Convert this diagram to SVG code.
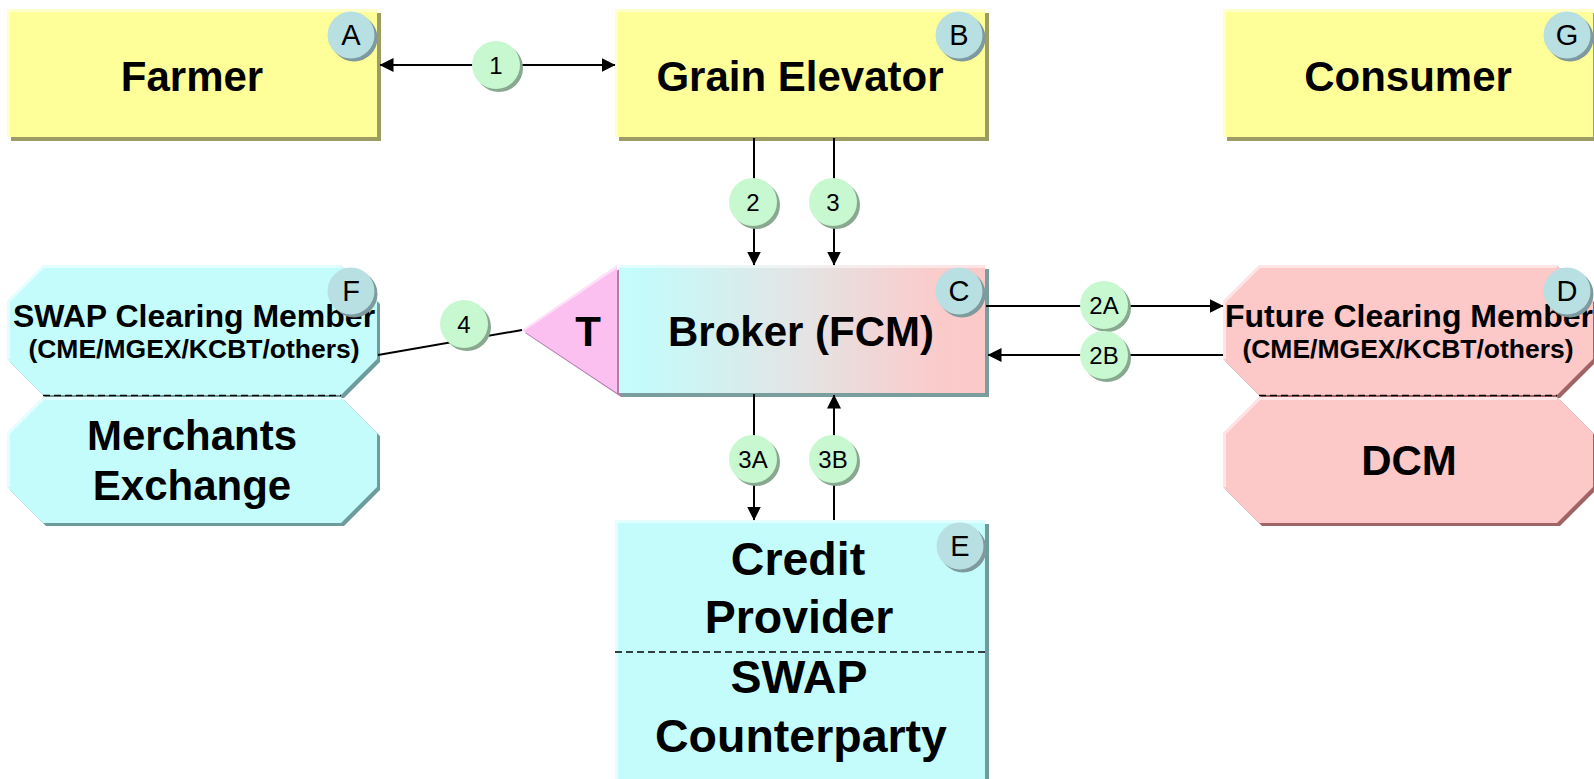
<svg xmlns="http://www.w3.org/2000/svg" width="1594" height="779" viewBox="0 0 1594 779">
<defs>
  <linearGradient id="brokerGrad" x1="0" y1="0" x2="1" y2="0">
    <stop offset="0" stop-color="#c4fcfc"/>
    <stop offset="0.08" stop-color="#c6fafa"/>
    <stop offset="0.5" stop-color="#e4e4e4"/>
    <stop offset="0.85" stop-color="#facccc"/>
    <stop offset="1" stop-color="#fcc8c8"/>
  </linearGradient>
  <marker id="arr" markerUnits="userSpaceOnUse" markerWidth="14" markerHeight="14" viewBox="0 0 14 14" refX="13.5" refY="7" orient="auto-start-reverse">
    <path d="M0,0 L14,7 L0,14 z" fill="#000"/>
  </marker>
</defs>
<style>
  .t { font-family: "Liberation Sans", Arial, sans-serif; fill: #000; text-anchor: middle; }
  .big { font-size: 42px; font-weight: bold; }
  .huge { font-size: 46.5px; font-weight: bold; }
  .mid { font-size: 32px; font-weight: bold; }
  .small { font-size: 26.5px; font-weight: bold; }
  .badge-t { font-size: 29px; }
  .lbl-t { font-size: 24px; }
  .fy { fill: #ffff99; }
  .sy { fill: #9c9c64; }
  .fc { fill: #c4fcfc; }
  .sc { fill: #6e9c9c; }
  .fp { fill: #fcc8c8; }
  .sp { fill: #a06464; }
  .hl { fill: none; stroke: #ffffff; stroke-opacity: 0.5; stroke-width: 3; }
  .badge { fill: #b8dfe2; }
  .badge-sh { fill: #7e9a9c; }
  .lbl { fill: #c8f8d0; }
  .lbl-sh { fill: #88a890; }
  .dash { stroke: #000; stroke-width: 1.5; stroke-dasharray: 7 4; fill: none; }
  .conn { stroke: #000; stroke-width: 2; fill: none; }
</style>
<rect x="0" y="0" width="1594" height="779" fill="#ffffff"/>

<g id="node-A-farmer">
  <rect class="sy" x="11" y="13" width="370" height="128"/>
  <rect class="fy" x="7" y="9" width="370" height="128"/>
  <path class="hl" d="M8.5,137 V10.5 H377"/>
  <text class="t big" x="192" y="91">Farmer</text>
  <circle class="badge-sh" cx="354" cy="38" r="23.5"/>
  <circle class="badge" cx="351" cy="35" r="23.5"/>
  <text class="t badge-t" x="351" y="45">A</text>
</g>

<g id="node-B-grain-elevator">
  <rect class="sy" x="619" y="13" width="370" height="128"/>
  <rect class="fy" x="615" y="9" width="370" height="128"/>
  <path class="hl" d="M616.5,137 V10.5 H985"/>
  <text class="t big" x="800" y="91">Grain Elevator</text>
  <circle class="badge-sh" cx="962" cy="38" r="23.5"/>
  <circle class="badge" cx="959" cy="35" r="23.5"/>
  <text class="t badge-t" x="959" y="45">B</text>
</g>

<g id="node-G-consumer">
  <rect class="sy" x="1227" y="13" width="370" height="128"/>
  <rect class="fy" x="1223" y="9" width="370" height="128"/>
  <path class="hl" d="M1224.5,137 V10.5 H1593"/>
  <text class="t big" x="1408" y="91">Consumer</text>
  <circle class="badge-sh" cx="1570" cy="38" r="23.5"/>
  <circle class="badge" cx="1567" cy="35" r="23.5"/>
  <text class="t badge-t" x="1567" y="45">G</text>
</g>

<g id="node-C-broker">
  <polygon fill="#b080a8" points="525,333 621,268 621,397"/>
  <polygon fill="#fcc0f0" points="522,330 617,265 617,393"/>
  <path class="hl" d="M523,330 L617,266.5"/>
  <rect fill="#7a9e9e" x="621" y="269" width="368" height="128"/>
  <rect fill="url(#brokerGrad)" x="619" y="265" width="366" height="128"/>
  <path class="hl" d="M619,266.5 H985"/>
  <text class="t big" x="588" y="346">T</text>
  <text class="t big" x="801" y="346">Broker (FCM)</text>
  <circle class="badge-sh" cx="962" cy="294" r="23.5"/>
  <circle class="badge" cx="959" cy="291" r="23.5"/>
  <text class="t badge-t" x="959" y="301">C</text>
</g>

<g id="node-F-swap-clearing">
  <polygon class="sc" points="46,268 344,268 380,304 380,362 344,398 46,398 10,362 10,304"/>
  <polygon class="fc" points="43,265 341,265 377,301 377,359 341,395 43,395 7,359 7,301"/>
  <path class="hl" d="M8.5,359 V301.5 L43.5,266.5 H341"/>
  <polygon class="sc" points="46,400 344,400 380,436 380,490 344,526 46,526 10,490 10,436"/>
  <polygon class="fc" points="43,397 341,397 377,433 377,487 341,523 43,523 7,487 7,433"/>
  <path class="hl" d="M8.5,487 V433.5 L43.5,398.5 H341"/>
  <line class="dash" x1="43" y1="395.5" x2="341" y2="395.5"/>
  <text class="t mid" x="194" y="327">SWAP Clearing Member</text>
  <text class="t small" x="194" y="358">(CME/MGEX/KCBT/others)</text>
  <text class="t big" x="192" y="450">Merchants</text>
  <text class="t big" x="192" y="500">Exchange</text>
  <circle class="badge-sh" cx="354" cy="294" r="23.5"/>
  <circle class="badge" cx="351" cy="291" r="23.5"/>
  <text class="t badge-t" x="351" y="301">F</text>
</g>

<g id="node-D-future-clearing">
  <polygon class="sp" points="1262,268 1560,268 1596,304 1596,362 1560,398 1262,398 1226,362 1226,304"/>
  <polygon class="fp" points="1259,265 1557,265 1593,301 1593,359 1557,395 1259,395 1223,359 1223,301"/>
  <path class="hl" d="M1224.5,359 V301.5 L1259.5,266.5 H1557"/>
  <polygon class="sp" points="1262,400 1560,400 1596,436 1596,490 1560,526 1262,526 1226,490 1226,436"/>
  <polygon class="fp" points="1259,397 1557,397 1593,433 1593,487 1557,523 1259,523 1223,487 1223,433"/>
  <path class="hl" d="M1224.5,487 V433.5 L1259.5,398.5 H1557"/>
  <line class="dash" x1="1259" y1="395.5" x2="1557" y2="395.5"/>
  <text class="t mid" x="1409" y="327">Future Clearing Member</text>
  <text class="t small" x="1408" y="358">(CME/MGEX/KCBT/others)</text>
  <text class="t big" x="1409" y="475">DCM</text>
  <circle class="badge-sh" cx="1570" cy="294" r="23.5"/>
  <circle class="badge" cx="1567" cy="291" r="23.5"/>
  <text class="t badge-t" x="1567" y="301">D</text>
</g>

<g id="node-E-credit-provider">
  <rect class="sc" x="619" y="524" width="370" height="280"/>
  <rect class="fc" x="615" y="520" width="370" height="280"/>
  <path class="hl" d="M616.5,800 V521.5 H985"/>
  <line class="dash" x1="615" y1="652" x2="985" y2="652"/>
  <text class="t huge" x="798" y="575">Credit</text>
  <text class="t huge" x="799" y="633">Provider</text>
  <text class="t huge" x="799" y="693">SWAP</text>
  <text class="t huge" x="801" y="752">Counterparty</text>
  <circle class="badge-sh" cx="963" cy="549" r="23.5"/>
  <circle class="badge" cx="960" cy="546" r="23.5"/>
  <text class="t badge-t" x="960" y="556">E</text>
</g>

<g id="connectors">
  <line class="conn" x1="380" y1="65" x2="615" y2="65" marker-start="url(#arr)" marker-end="url(#arr)"/>
  <line class="conn" x1="754" y1="138" x2="754" y2="265" marker-end="url(#arr)"/>
  <line class="conn" x1="834" y1="138" x2="834" y2="265" marker-end="url(#arr)"/>
  <line class="conn" x1="754" y1="394" x2="754" y2="520" marker-end="url(#arr)"/>
  <line class="conn" x1="834" y1="520" x2="834" y2="395" marker-end="url(#arr)"/>
  <line class="conn" x1="986" y1="306" x2="1223" y2="306" marker-end="url(#arr)"/>
  <line class="conn" x1="1223" y1="355" x2="988" y2="355" marker-end="url(#arr)"/>
  <line class="conn" x1="378" y1="355" x2="522" y2="330"/>

  <g id="label-1"><circle class="lbl-sh" cx="499" cy="68" r="24"/><circle class="lbl" cx="496" cy="65" r="24"/><text class="t lbl-t" x="496" y="74">1</text></g>
  <g id="label-2"><circle class="lbl-sh" cx="756" cy="205" r="24"/><circle class="lbl" cx="753" cy="202" r="24"/><text class="t lbl-t" x="753" y="211">2</text></g>
  <g id="label-3"><circle class="lbl-sh" cx="836" cy="205" r="24"/><circle class="lbl" cx="833" cy="202" r="24"/><text class="t lbl-t" x="833" y="211">3</text></g>
  <g id="label-4"><circle class="lbl-sh" cx="467" cy="327" r="24"/><circle class="lbl" cx="464" cy="324" r="24"/><text class="t lbl-t" x="464" y="333">4</text></g>
  <g id="label-2A"><circle class="lbl-sh" cx="1107" cy="308" r="24"/><circle class="lbl" cx="1104" cy="305" r="24"/><text class="t lbl-t" x="1104" y="314">2A</text></g>
  <g id="label-2B"><circle class="lbl-sh" cx="1107" cy="358" r="24"/><circle class="lbl" cx="1104" cy="355" r="24"/><text class="t lbl-t" x="1104" y="364">2B</text></g>
  <g id="label-3A"><circle class="lbl-sh" cx="756" cy="462" r="24"/><circle class="lbl" cx="753" cy="459" r="24"/><text class="t lbl-t" x="753" y="468">3A</text></g>
  <g id="label-3B"><circle class="lbl-sh" cx="836" cy="462" r="24"/><circle class="lbl" cx="833" cy="459" r="24"/><text class="t lbl-t" x="833" y="468">3B</text></g>
</g>
</svg>
